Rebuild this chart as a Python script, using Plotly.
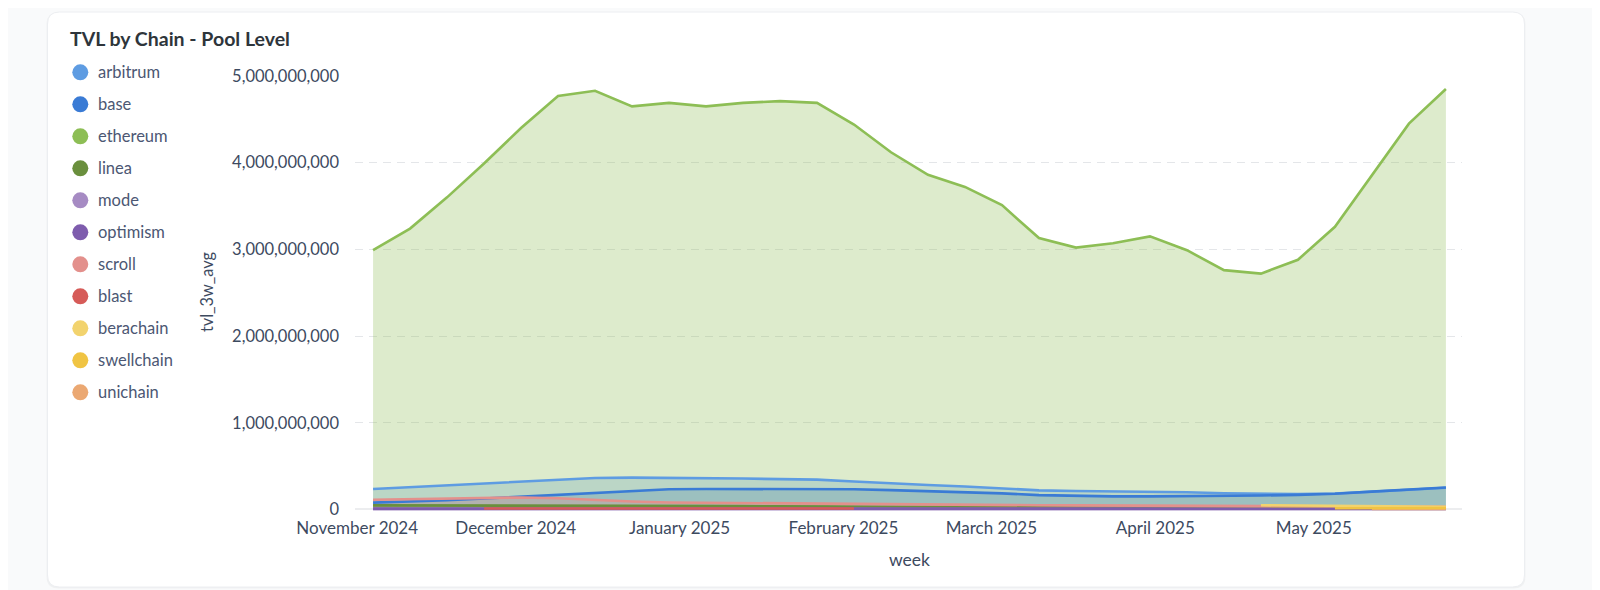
import plotly.graph_objects as go

# ---------------- data ----------------
weeks = ["2024-11-04", "2024-11-11", "2024-11-18", "2024-11-25", "2024-12-02", "2024-12-09",
         "2024-12-16", "2024-12-23", "2024-12-30", "2025-01-06", "2025-01-13", "2025-01-20",
         "2025-01-27", "2025-02-03", "2025-02-10", "2025-02-17", "2025-02-24", "2025-03-03",
         "2025-03-10", "2025-03-17", "2025-03-24", "2025-03-31", "2025-04-07", "2025-04-14",
         "2025-04-21", "2025-04-28", "2025-05-05", "2025-05-12", "2025-05-19", "2025-05-26"]

arbitrum = [236e6, 256e6, 278e6, 300e6, 320e6, 343e6, 362e6, 366e6, 365e6, 362e6, 356e6, 349e6,
            343e6, 322e6, 300e6, 282e6, 265e6, 245e6, 220e6, 212e6, 210e6, 205e6, 198e6, 186e6,
            178e6, 176e6, 184e6, 202e6, 226e6, 250e6]
base = [78e6, 90e6, 105e6, 125e6, 145e6, 168e6, 190e6, 213e6, 232e6, 236e6, 237e6, 238e6,
        236e6, 232e6, 222e6, 210e6, 198e6, 185e6, 165e6, 155e6, 150e6, 150e6, 152e6, 155e6,
        160e6, 168e6, 180e6, 205e6, 230e6, 252e6]
ethereum = [2.99e9, 3.24e9, 3.60e9, 3.99e9, 4.40e9, 4.77e9, 4.83e9, 4.65e9, 4.69e9, 4.65e9,
            4.69e9, 4.71e9, 4.69e9, 4.44e9, 4.12e9, 3.86e9, 3.72e9, 3.51e9, 3.13e9, 3.02e9,
            3.07e9, 3.15e9, 2.99e9, 2.76e9, 2.72e9, 2.88e9, 3.26e9, 3.86e9, 4.45e9, 4.85e9]
linea = [46e6, 46e6, 45e6, 45e6, 44e6, 44e6, 43e6, 42e6, 41e6, 40e6, 38e6, 36e6, 34e6, 32e6,
         28e6, 24e6, 22e6, 20e6, 18e6, 17e6, 16e6, 15e6, 14e6, 13e6, 12e6, 11e6, 10e6, 10e6,
         9e6, 9e6]
mode = [3e6, 3e6, 3e6, 3e6, 3e6, 3e6, 3e6, 3e6, 3e6, 3e6, 3e6, 3e6, 3e6, 3e6, 3e6, 3e6,
        3e6, 3e6, 3e6, 3e6, 3e6, 3e6, 3e6, 3e6, 3e6, 3e6, 3e6, 3e6, 3e6, 3e6]
optimism = [9e6, 9e6, 9e6, 9e6, 9e6, 9e6, 9e6, 9e6, 9e6, 9e6, 9e6, 9e6, 9e6, 9e6, 8e6, 8e6,
            8e6, 8e6, 8e6, 8e6, 8e6, 8e6, 8e6, 8e6, 8e6, 8e6, 8e6, 8e6, 8e6, 8e6]
scroll = [112e6, 120e6, 128e6, 135e6, 138e6, 128e6, 108e6, 92e6, 80e6, 76e6, 73e6, 70e6,
          66e6, 62e6, 58e6, 55e6, 52e6, 50e6, 48e6, 46e6, 44e6, 42e6, 40e6, 38e6, 36e6, 35e6,
          34e6, 33e6, 32e6, 31e6]
blast = [None, None, None, 11e6, 12e6, 12e6, 12e6, 12e6, 12e6, 12e6, 11e6, 11e6, 11e6, 10e6,
         None, None, None, None, None, None, None, None, None, None, None, None, None, None,
         None, None]
berachain = [None] * 24 + [48e6, 45e6, 42e6, 38e6, 34e6, 30e6]
swellchain = [None] * 26 + [14e6, 15e6, 15e6, 16e6]
unichain = [None] * 27 + [4e6, 5e6, 5e6]

series_names = ["arbitrum", "base", "ethereum", "linea", "mode", "optimism", "scroll", "blast",
                "berachain", "swellchain", "unichain"]
series_values = [arbitrum, base, ethereum, linea, mode, optimism, scroll, blast,
                 berachain, swellchain, unichain]
series_colors = ["#5E9CE2", "#3A7BD5", "#8DBE55", "#6A8F3D", "#A68BC3", "#7E5CAD",
                 "#E3908C", "#D65B58", "#F2D36E", "#F0C443", "#EBA872"]

y_ticks = [0, 1e9, 2e9, 3e9, 4e9, 5e9]
x_ticks = ["2024-11-01", "2024-12-01", "2025-01-01", "2025-02-01", "2025-03-01",
           "2025-04-01", "2025-05-01"]
x_ticktext = ["November 2024", "December 2024", "January 2025", "February 2025",
              "March 2025", "April 2025", "May 2025"]

# ---------------- layout geometry ----------------
# the page puts the figure 8px from the top-left corner; target coordinates are page pixels
OFF = 8
W, H = 1600 - OFF, 590 - OFF
PL, PR, PT, PB = 355, 1462, 76, 512          # plot area in page pixels
ML, MR, MT, MB = PL - OFF, W - (PR - OFF), PT - OFF, H - (PB - OFF)
PW, PH = PR - PL, PB - PT


def px(x):
    return (x - PL) / PW


def py(y):
    return (PB - y) / PH


def rgba(hexc, a):
    h = hexc.lstrip("#")
    return f"rgba({int(h[0:2],16)},{int(h[2:4],16)},{int(h[4:6],16)},{a})"


fig = go.Figure()

# fills first
for name, vals, col in zip(series_names, series_values, series_colors):
    fig.add_trace(go.Scatter(x=weeks, y=vals, name=name, mode="none", fill="tozeroy",
                             fillcolor=rgba(col, 0.3), showlegend=False, hoverinfo="skip"))

# lines on top (unichain below swellchain)
line_order = ["arbitrum", "base", "ethereum", "linea", "mode", "optimism", "scroll", "blast",
              "berachain", "unichain", "swellchain"]
for name in line_order:
    k = series_names.index(name)
    fig.add_trace(go.Scatter(x=weeks, y=series_values[k], name=name, mode="lines",
                             line=dict(color=series_colors[k], width=2.6),
                             showlegend=False))


def rounded(x0, y0, x1, y1, r):
    return (f"M {px(x0+r)},{py(y0)} L {px(x1-r)},{py(y0)} "
            f"Q {px(x1)},{py(y0)} {px(x1)},{py(y0+r)} L {px(x1)},{py(y1-r)} "
            f"Q {px(x1)},{py(y1)} {px(x1-r)},{py(y1)} L {px(x0+r)},{py(y1)} "
            f"Q {px(x0)},{py(y1)} {px(x0)},{py(y1-r)} L {px(x0)},{py(y0+r)} "
            f"Q {px(x0)},{py(y0)} {px(x0+r)},{py(y0)} Z")


shapes = [
    dict(type="path", xref="paper", yref="paper", layer="below",
         path=rounded(46.5, 12.5, 1525.5, 588.5, 12),
         fillcolor="rgba(0,0,0,0.035)", line=dict(width=0)),
    dict(type="path", xref="paper", yref="paper", layer="below",
         path=rounded(47.5, 12, 1524.5, 587, 12),
         fillcolor="#FFFFFF", line=dict(color="#ECEEF1", width=1)),
]

annotations = [
    dict(text="<b>TVL by Chain - Pool Level</b>", x=px(68), y=py(39), xref="paper", yref="paper",
         xanchor="left", yanchor="middle", showarrow=False,
         font=dict(family="Lato", size=19.5, color="#2E353B")),
    dict(text="tvl_3w_avg", x=px(206), y=py(292), xref="paper", yref="paper",
         xanchor="center", yanchor="middle", showarrow=False, textangle=-90,
         font=dict(family="Lato", size=16.3, color="#3D4A5F")),
    dict(text="week", x=px(909), y=py(559), xref="paper", yref="paper",
         xanchor="center", yanchor="middle", showarrow=False,
         font=dict(family="Lato", size=17.5, color="#3D4A5F")),
]

# custom legend
for i, (name, col) in enumerate(zip(series_names, series_colors)):
    cy = 72.3 + 32 * i
    cx = 80.3
    r = 8
    shapes.append(dict(type="circle", xref="paper", yref="paper", layer="above",
                       x0=px(cx - r), x1=px(cx + r), y0=py(cy + r), y1=py(cy - r),
                       fillcolor=col, line=dict(color=col, width=0)))
    annotations.append(dict(text=name, x=px(95.5), y=py(cy), xref="paper", yref="paper",
                            xanchor="left", yanchor="middle", showarrow=False,
                            font=dict(family="Lato", size=16.5, color="#4C5773")))

fig.update_layout(
    width=W, height=H,
    margin=dict(l=ML, r=MR, t=MT, b=MB, pad=0),
    paper_bgcolor="#F9FAFB",
    plot_bgcolor="rgba(0,0,0,0)",
    font=dict(family="Lato", color="#3D4A5F"),
    showlegend=False,
    shapes=shapes,
    annotations=annotations,
    xaxis=dict(
        type="date",
        range=["2024-10-31 14:00", "2025-05-29 01:00"],
        tickvals=x_ticks, ticktext=x_ticktext,
        showgrid=False, zeroline=False, showline=False,
        ticks="", ticklabelstandoff=4,
        tickfont=dict(family="Lato", size=17, color="#3D4A5F"),
    ),
    yaxis=dict(
        range=[-0.03e9, 5e9],
        tickvals=y_ticks, tickformat=",",
        showgrid=True, gridcolor="#E4E6E9", gridwidth=1, griddash="8px,6px",
        zeroline=True, zerolinecolor="#ECEDEF", zerolinewidth=2,
        showline=False, ticks="", ticklabelstandoff=15,
        tickfont=dict(family="Lato", size=16.5, color="#3D4A5F"),
    ),
)

fig.write_html("out.html")
